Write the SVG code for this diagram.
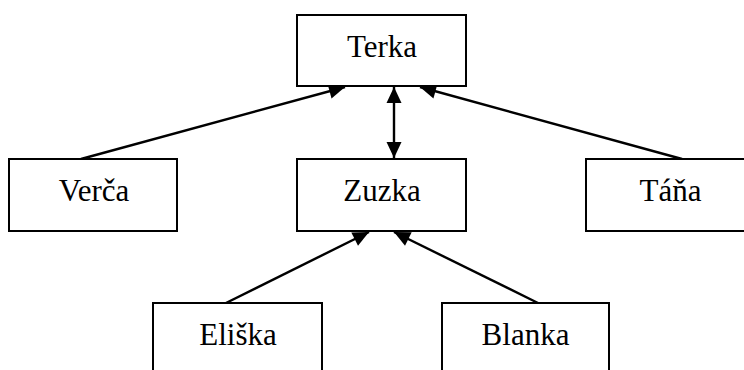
<svg xmlns="http://www.w3.org/2000/svg" width="744" height="370" viewBox="0 0 744 370">
<style>
  .box { fill: #ffffff; stroke: #000000; stroke-width: 2; }
  .lbl { font-family: "Liberation Serif", "Times New Roman", serif; font-size: 31px; fill: #000000; text-anchor: middle; }
  .con { stroke: #000000; stroke-width: 2.4; fill: none; }
</style>
<defs>
  <marker id="ah" markerUnits="userSpaceOnUse" markerWidth="18" markerHeight="18" viewBox="-17 -9 18 18" refX="0" refY="0" orient="auto-start-reverse">
    <path d="M0,0 L-16,-7.5 L-16,7.5 Z" fill="#000000"/>
  </marker>
</defs>
<rect width="744" height="370" fill="#ffffff"/>
<g id="connectors">
  <line class="con" x1="81" y1="159" x2="345" y2="87" marker-end="url(#ah)"/>
  <line class="con" x1="682" y1="159" x2="420" y2="87" marker-end="url(#ah)"/>
  <line class="con" x1="394" y1="87" x2="394" y2="158" marker-start="url(#ah)" marker-end="url(#ah)"/>
  <line class="con" x1="226" y1="303" x2="369" y2="232" marker-end="url(#ah)"/>
  <line class="con" x1="538" y1="303" x2="394" y2="232" marker-end="url(#ah)"/>
</g>
<g id="terka">
  <rect class="box" x="297" y="15" width="169" height="71"/>
  <text class="lbl" x="382" y="57">Terka</text>
</g>
<g id="verca">
  <rect class="box" x="9" y="159" width="168" height="72"/>
  <text class="lbl" x="94" y="201">Verča</text>
</g>
<g id="zuzka">
  <rect class="box" x="297" y="159" width="169" height="72"/>
  <text class="lbl" x="382" y="201">Zuzka</text>
</g>
<g id="tana">
  <rect class="box" x="586" y="159" width="168" height="72"/>
  <text class="lbl" x="670.5" y="201">Táňa</text>
</g>
<g id="eliska">
  <rect class="box" x="153" y="303" width="169" height="72"/>
  <text class="lbl" x="238" y="345">Eliška</text>
</g>
<g id="blanka">
  <rect class="box" x="442" y="303" width="167" height="72"/>
  <text class="lbl" x="525.5" y="345">Blanka</text>
</g>
</svg>
